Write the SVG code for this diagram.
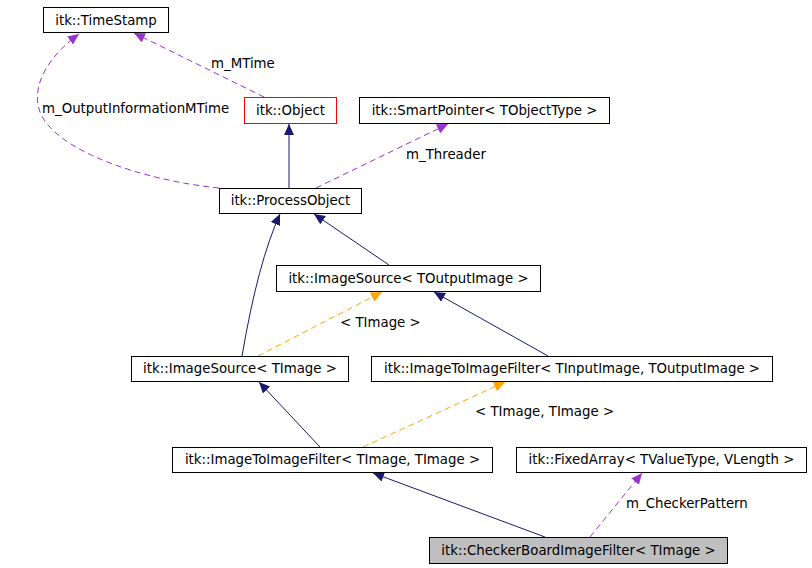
<svg xmlns="http://www.w3.org/2000/svg" width="812" height="568" viewBox="0 0 812 568">
<style>
.n rect{fill:#fff;stroke:#000;stroke-width:1}
.n text{font-family:"DejaVu Sans",sans-serif;font-size:13.33px;fill:#000;text-anchor:middle}
.lbl{font-family:"DejaVu Sans",sans-serif;font-size:13.33px;fill:#000}
.inh{fill:none;stroke:#191970;stroke-width:1}
.tpl{fill:none;stroke:#ffa500;stroke-width:1;stroke-dasharray:6,4}
.use{fill:none;stroke:#9a32cd;stroke-width:1;stroke-dasharray:6,4}
</style>
<defs>
<marker id="aN" markerUnits="userSpaceOnUse" markerWidth="12" markerHeight="10" refX="11" refY="5" orient="auto"><path d="M0,0 L11,5 L0,10 z" fill="#191970"/></marker>
<marker id="aO" markerUnits="userSpaceOnUse" markerWidth="12" markerHeight="10" refX="11" refY="5" orient="auto"><path d="M0,0 L11,5 L0,10 z" fill="#ffa500"/></marker>
<marker id="aP" markerUnits="userSpaceOnUse" markerWidth="12" markerHeight="10" refX="11" refY="5" orient="auto"><path d="M0,0 L11,5 L0,10 z" fill="#9a32cd"/></marker>
</defs>
<rect width="812" height="568" fill="#fff"/>
<g id="edges">
<path class="inh" d="M289,188 L289,124" marker-end="url(#aN)"/>
<path class="inh" d="M389,265 L314,214" marker-end="url(#aN)"/>
<path class="inh" d="M242,356 Q258,262 280,214" marker-end="url(#aN)"/>
<path class="inh" d="M548,356 L434,292" marker-end="url(#aN)"/>
<path class="inh" d="M320,447 L259,382" marker-end="url(#aN)"/>
<path class="inh" d="M545,537 L373,473" marker-end="url(#aN)"/>
<path class="tpl" d="M258,356 L382,292" marker-end="url(#aO)"/>
<path class="tpl" d="M363,447 L505,382" marker-end="url(#aO)"/>
<path class="use" d="M264,97 L134,33" marker-end="url(#aP)"/>
<path class="use" d="M219,188 C140,180 55,150 40,112 C30,85 50,55 79,34" marker-end="url(#aP)"/>
<path class="use" d="M316,188 L448,124" marker-end="url(#aP)"/>
<path class="use" d="M590,537 L642,473" marker-end="url(#aP)"/>
<text class="lbl" x="211" y="68">m_MTime</text>
<text class="lbl" x="42" y="113">m_OutputInformationMTime</text>
<text class="lbl" x="406" y="159">m_Threader</text>
<text class="lbl" x="340" y="327">&lt; TImage &gt;</text>
<text class="lbl" x="475" y="416">&lt; TImage, TImage &gt;</text>
<text class="lbl" x="626" y="508">m_CheckerPattern</text>
</g>
<g id="timestamp" class="n"><rect x="43.5" y="7.5" width="125" height="25"/><text x="106" y="25">itk::TimeStamp</text></g>
<g id="object" class="n"><rect x="244.5" y="97.5" width="92" height="26" style="stroke:#ff0000"/><text x="290.5" y="115">itk::Object</text></g>
<g id="smartpointer" class="n"><rect x="359.5" y="97.5" width="250" height="26"/><text x="484.5" y="115">itk::SmartPointer&lt; TObjectType &gt;</text></g>
<g id="processobject" class="n"><rect x="219.5" y="188.5" width="142" height="25"/><text x="290.5" y="205">itk::ProcessObject</text></g>
<g id="imagesource_out" class="n"><rect x="276.5" y="265.5" width="264" height="26"/><text x="408.5" y="283">itk::ImageSource&lt; TOutputImage &gt;</text></g>
<g id="imagesource_img" class="n"><rect x="131.5" y="356.5" width="217" height="25"/><text x="240" y="373">itk::ImageSource&lt; TImage &gt;</text></g>
<g id="i2i_generic" class="n"><rect x="371.5" y="356.5" width="401" height="25"/><text x="572" y="373">itk::ImageToImageFilter&lt; TInputImage, TOutputImage &gt;</text></g>
<g id="i2i_img" class="n"><rect x="172.5" y="447.5" width="320" height="25"/><text x="332.5" y="464">itk::ImageToImageFilter&lt; TImage, TImage &gt;</text></g>
<g id="fixedarray" class="n"><rect x="516.5" y="447.5" width="290" height="25"/><text x="661.5" y="464">itk::FixedArray&lt; TValueType, VLength &gt;</text></g>
<g id="checkerboard" class="n"><rect x="429.5" y="537.5" width="298" height="26" style="fill:#bfbfbf"/><text x="578.5" y="555">itk::CheckerBoardImageFilter&lt; TImage &gt;</text></g>
</svg>
